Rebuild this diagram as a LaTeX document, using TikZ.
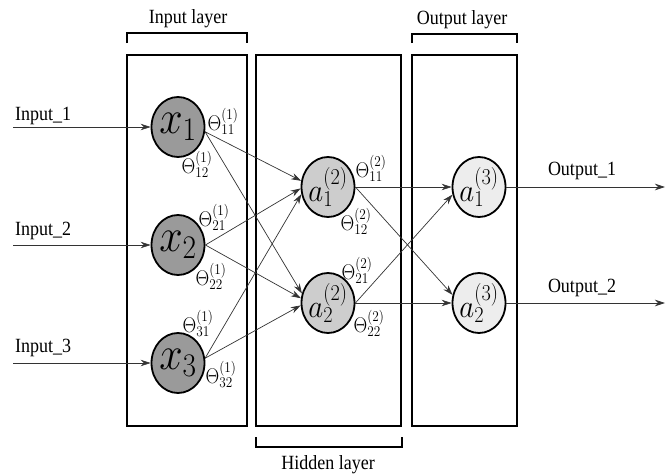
\RequirePackage{fix-cm}
\documentclass[tikz,border=0pt]{standalone}
\usepackage{graphicx}
\usepackage{fontspec}
\setmainfont{Liberation Serif}
\usetikzlibrary{shapes.geometric,arrows.meta}
\definecolor{inFill}{HTML}{9A9A9A}
\definecolor{hidFill}{HTML}{CDCDCD}
\definecolor{outFill}{HTML}{EDEDED}
\definecolor{wire}{HTML}{333333}
\newcommand{\vst}[1]{\scalebox{1}[1.12]{#1}}
\begin{document}
\begin{tikzpicture}[x=1pt,y=-1pt,
  neuron/.style={ellipse, draw=black, line width=1.8pt, minimum width=53pt, minimum height=60pt, inner sep=-4pt},
  layerbox/.style={draw=black, line width=2.6pt},
  bracket/.style={draw=black, line width=2.2pt},
  conn/.style={draw=wire, line width=0.7pt, -{Stealth[length=10pt,width=6.5pt]}},
  lbl/.style={font=\fontsize{18}{20}\selectfont, inner sep=0pt},
  wt/.style={font=\fontsize{19}{19}\selectfont, inner sep=0pt}]
\useasboundingbox (0,0) rectangle (670,474);

% layer boxes
\draw[layerbox] (127,55) rectangle (247,426);
\draw[layerbox] (256,55) rectangle (401,426);
\draw[layerbox] (412,55) rectangle (517,426);

% brackets
\draw[bracket] (127,43) -- (127,33) -- (247,33) -- (247,43);
\draw[bracket] (412,43) -- (412,34) -- (517,34) -- (517,43);
\draw[bracket] (256,437) -- (256,447) -- (402,447) -- (402,437);
\node[lbl] (tin) at (188,19) {\vst{Input layer}};
\node[lbl] (tout) at (462,20) {\vst{Output layer}};
\node[lbl] (thid) at (328,465) {\vst{Hidden layer}};

% neurons
\node[neuron, fill=inFill] (x1) at (178,127) {\fontsize{42}{42}\selectfont\vst{$x_1$}};
\node[neuron, fill=inFill] (x2) at (178,245) {\fontsize{42}{42}\selectfont\vst{$x_2$}};
\node[neuron, fill=inFill] (x3) at (178,363) {\fontsize{42}{42}\selectfont\vst{$x_3$}};
\node[neuron, fill=hidFill] (h1) at (328,187) {\fontsize{29}{29}\selectfont\vst{$a^{(2)}_1$}};
\node[neuron, fill=hidFill] (h2) at (328,303) {\fontsize{29}{29}\selectfont\vst{$a^{(2)}_2$}};
\node[neuron, fill=outFill] (o1) at (479,187) {\fontsize{29}{29}\selectfont\vst{$a^{(3)}_1$}};
\node[neuron, fill=outFill] (o2) at (479,303) {\fontsize{29}{29}\selectfont\vst{$a^{(3)}_2$}};

% inputs
\coordinate (i1) at (13,127);
\coordinate (i2) at (13,245);
\coordinate (i3) at (13,363);
\draw[conn] (i1) -- (x1);
\draw[conn] (i2) -- (x2);
\draw[conn] (i3) -- (x3);
\node[lbl, anchor=west] (l1) at (15,116) {\vst{Input\_1}};
\node[lbl, anchor=west] (l2) at (15,231) {\vst{Input\_2}};
\node[lbl, anchor=west] (l3) at (15,348) {\vst{Input\_3}};

% input -> hidden
\draw[conn] (x1.-10) -- (h1.167);
\draw[conn] (x1.-10) -- (h2.160);
\draw[conn] (x2.east) -- (h1.183);
\draw[conn] (x2.east) -- (h2.170);
\draw[conn] (x3.10) -- (h1.195);
\draw[conn] (x3.10) -- (h2.185);

% hidden -> output
\draw[conn] (h1.east) -- (o1.west);
\draw[conn] (h1.east) -- (o2.163);
\draw[conn] (h2.east) -- (o1.196);
\draw[conn] (h2.east) -- (o2.west);

% outputs
\coordinate (e1) at (665,187);
\coordinate (e2) at (665,303);
\draw[conn] (o1) -- (e1);
\draw[conn] (o2) -- (e2);
\node[lbl] (r1) at (582,171) {\vst{Output\_1}};
\node[lbl] (r2) at (582,288) {\vst{Output\_2}};

% weights
\node[wt] (w111) at (223,121) {\vst{$\Theta^{(1)}_{11}$}};
\node[wt] (w112) at (197,164) {\vst{$\Theta^{(1)}_{12}$}};
\node[wt] (w121) at (214,217) {\vst{$\Theta^{(1)}_{21}$}};
\node[wt] (w122) at (211,276) {\vst{$\Theta^{(1)}_{22}$}};
\node[wt] (w131) at (198,323) {\vst{$\Theta^{(1)}_{31}$}};
\node[wt] (w132) at (221,374) {\vst{$\Theta^{(1)}_{32}$}};
\node[wt] (w211) at (371,168) {\vst{$\Theta^{(2)}_{11}$}};
\node[wt] (w212) at (356,221) {\vst{$\Theta^{(2)}_{12}$}};
\node[wt] (w221) at (357,270) {\vst{$\Theta^{(2)}_{21}$}};
\node[wt] (w222) at (369,323) {\vst{$\Theta^{(2)}_{22}$}};
\end{tikzpicture}
\end{document}
